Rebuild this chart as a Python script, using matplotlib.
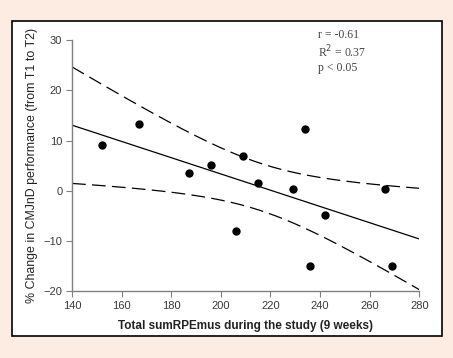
import numpy as np
import matplotlib
matplotlib.use('Agg')
import matplotlib.pyplot as plt
from matplotlib.patches import Rectangle

# data
sum_rpe = [152, 167, 187, 196, 206, 209, 215, 229, 234, 236, 242, 266, 269]
cmj_change = [9.1, 13.4, 3.5, 5.2, -8.0, 7.0, 1.5, 0.4, 12.4, -15.1, -4.8, 0.4, -15.1]
x_ticks = [140, 160, 180, 200, 220, 240, 260, 280]
y_ticks = [-20, -10, 0, 10, 20, 30]
stats_text = ['r = -0.61', 'R$^2$ = 0.37', 'p < 0.05']

x = np.array(sum_rpe, dtype=float)
y = np.array(cmj_change, dtype=float)
n = len(x)
b, a = np.polyfit(x, y, 1)
xs = np.linspace(140, 280, 200)
fit = a + b * xs
resid = y - (a + b * x)
s = np.sqrt(np.sum(resid ** 2) / (n - 2))
sxx = np.sum((x - x.mean()) ** 2)
t_crit = 2.201  # t(0.975, 11)
half = t_crit * s * np.sqrt(1 / n + (xs - x.mean()) ** 2 / sxx)

fig = plt.figure(figsize=(4.53, 3.58), dpi=100)
fig.patch.set_facecolor('#fdece1')
fig.patches.append(Rectangle((0.0265, 0.0615), 0.949, 0.88, transform=fig.transFigure,
                             facecolor='white', edgecolor='black', lw=1.2, zorder=-10))

ax = fig.add_axes([0.159, 0.187, 0.7666, 0.7003])
ax.set_facecolor('none')
ax.plot(xs, fit, color='black', lw=0.9)
ax.plot(xs, fit + half, color='black', lw=0.9, dashes=(11, 5))
ax.plot(xs, fit - half, color='black', lw=0.9, dashes=(11, 5))
ax.scatter(x, y, s=25, color='black', zorder=3, clip_on=False)

ax.set_xlim(140, 280)
ax.set_ylim(-20, 30)
ax.set_xticks(x_ticks)
ax.set_yticks(y_ticks)
for side in ['top', 'right']:
    ax.spines[side].set_visible(False)
for side in ['left', 'bottom']:
    ax.spines[side].set_color('#808080')
    ax.spines[side].set_linewidth(1.0)
ax.tick_params(direction='out', length=4, width=0.8, color='#808080',
               labelsize=8, labelcolor='#3a3a3a', pad=3)
for lab in ax.get_xticklabels() + ax.get_yticklabels():
    lab.set_fontfamily('Liberation Sans')

ax.set_xlabel('Total sumRPEmus during the study (9 weeks)', fontsize=8.5,
              fontweight='bold', family='Liberation Sans', color='#222222', labelpad=7)
ax.set_ylabel('% Change in CMJnD performance (from T1 to T2)', fontsize=8.9,
              family='Liberation Sans', color='#222222', labelpad=4)

for i, txt in enumerate(stats_text):
    fig.text(318 / 453, 1 - (35 + i * 16.5) / 358, txt, fontsize=8.5,
             family='Liberation Serif', color='#444444', va='center', ha='left')

fig.savefig('out.png', dpi=100, facecolor=fig.get_facecolor())
